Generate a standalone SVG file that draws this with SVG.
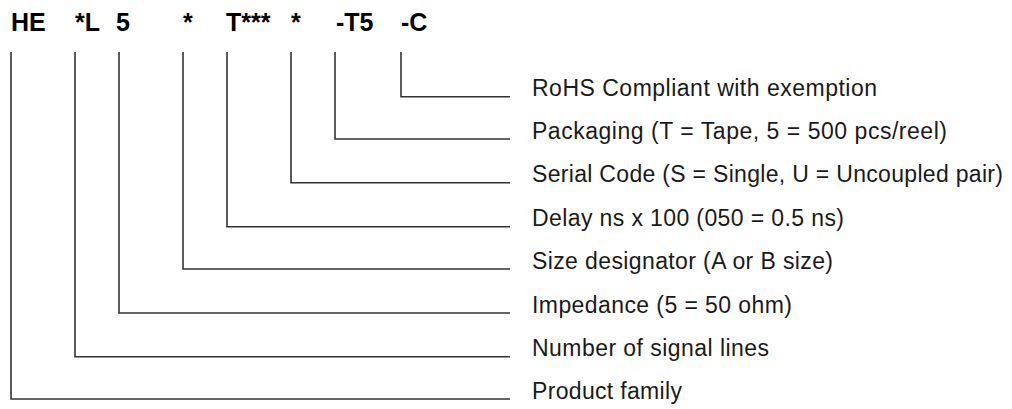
<svg xmlns="http://www.w3.org/2000/svg" width="1012" height="409" viewBox="0 0 1012 409">
<style>
.code{font-family:"Liberation Sans",Arial,sans-serif;font-weight:bold;font-size:25px;fill:#000}
.lbl{font-family:"Liberation Sans",Arial,sans-serif;font-size:23px;fill:#1a1a1a}
.conn{fill:none;stroke:#333;stroke-width:1.6}
</style>
<rect width="1012" height="409" fill="#fff"/>
<g id="codes">
<g id="code-he"><text class="code" x="11" y="31">HE</text></g>
<g id="code-l"><text class="code" x="75" y="31">*L</text></g>
<g id="code-5"><text class="code" x="116" y="31">5</text></g>
<g id="code-size"><text class="code" x="183" y="31">*</text></g>
<g id="code-t"><text class="code" x="226" y="31">T***</text></g>
<g id="code-serial"><text class="code" x="291" y="31">*</text></g>
<g id="code-t5"><text class="code" x="336" y="31">-T5</text></g>
<g id="code-c"><text class="code" x="401" y="31">-C</text></g>
</g>
<g id="connectors">
<polyline class="conn" points="401,52 401,96.7 510,96.7"/>
<polyline class="conn" points="335,52 335,139 510,139"/>
<polyline class="conn" points="291,52 291,182.7 510,182.7"/>
<polyline class="conn" points="227,52 227,226.7 510,226.7"/>
<polyline class="conn" points="183,52 183,269 510,269"/>
<polyline class="conn" points="119,52 119,313 510,313"/>
<polyline class="conn" points="75,52 75,356.7 510,356.7"/>
<polyline class="conn" points="11,52 11,399 510,399"/>
</g>
<g id="labels">
<g id="lbl-rohs"><text class="lbl" x="532" y="96" textLength="345" lengthAdjust="spacing">RoHS Compliant with exemption</text></g>
<g id="lbl-pack"><text class="lbl" x="532" y="138.5" textLength="415" lengthAdjust="spacing">Packaging (T = Tape, 5 = 500 pcs/reel)</text></g>
<g id="lbl-serial"><text class="lbl" x="532" y="182" textLength="471" lengthAdjust="spacing">Serial Code (S = Single, U = Uncoupled pair)</text></g>
<g id="lbl-delay"><text class="lbl" x="532" y="226" textLength="312" lengthAdjust="spacing">Delay ns x 100 (050 = 0.5 ns)</text></g>
<g id="lbl-size"><text class="lbl" x="532" y="268.5" textLength="301" lengthAdjust="spacing">Size designator (A or B size)</text></g>
<g id="lbl-imp"><text class="lbl" x="532" y="312.5" textLength="260" lengthAdjust="spacing">Impedance (5 = 50 ohm)</text></g>
<g id="lbl-num"><text class="lbl" x="532" y="356" textLength="237" lengthAdjust="spacing">Number of signal lines</text></g>
<g id="lbl-fam"><text class="lbl" x="532" y="398.5" textLength="150" lengthAdjust="spacing">Product family</text></g>
</g>
</svg>
